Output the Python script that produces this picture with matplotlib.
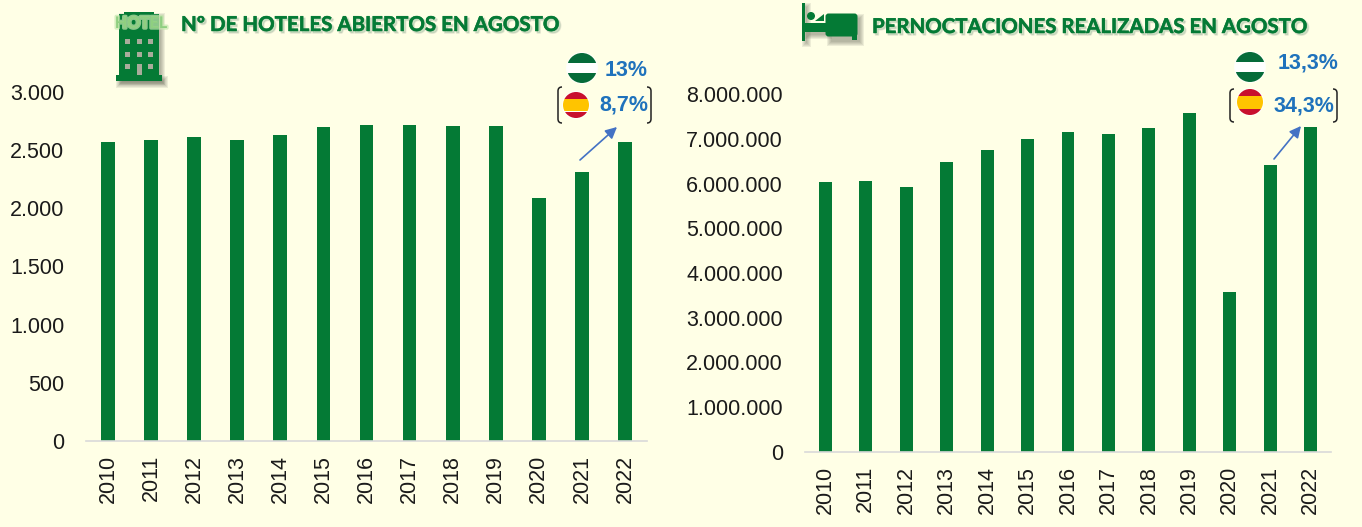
import matplotlib
matplotlib.use('Agg')
import matplotlib.pyplot as plt
import matplotlib.patheffects as pe
from matplotlib.patches import Rectangle, Circle, FancyArrowPatch, FancyBboxPatch, PathPatch, Polygon
from matplotlib.path import Path
from matplotlib.ticker import FuncFormatter

years = ['2010', '2011', '2012', '2013', '2014', '2015', '2016', '2017', '2018', '2019', '2020', '2021', '2022']
hoteles = [2570, 2587, 2613, 2587, 2630, 2700, 2716, 2716, 2708, 2708, 2089, 2312, 2570]
pernoctaciones = [6030000, 6060000, 5920000, 6480000, 6750000, 7000000, 7150000, 7100000,
                  7240000, 7580000, 3575000, 6410000, 7260000]

W, H = 1362, 527
BG = '#FFFFE6'
GREEN = '#047A35'
BLUE = '#1F72BC'
ARROW = '#4472C4'

plt.rcParams['font.family'] = ['Liberation Sans', 'DejaVu Sans']

fig = plt.figure(figsize=(W / 100, H / 100), dpi=100, facecolor=BG)


def make_axes(left, right, top, bottom):
    return fig.add_axes([left / W, 1 - bottom / H, (right - left) / W, (bottom - top) / H])


def draw_bars(ax, values, ymax, step, ypad):
    ax.set_facecolor('none')
    ax.bar(range(len(years)), values, width=0.32, color=GREEN)
    ax.set_xlim(-0.5, len(years) - 0.5)
    ax.set_ylim(0, ymax)
    ax.set_yticks(range(0, ymax + 1, step))
    ax.yaxis.set_major_formatter(FuncFormatter(lambda v, p: f'{int(v):,}'.replace(',', '.')))
    ax.set_xticks(range(len(years)))
    ax.set_xticklabels(years, rotation=90)
    ax.tick_params(axis='both', length=0, labelsize=15.5, colors='#1a1a1a')
    ax.tick_params(axis='x', pad=10)
    ax.tick_params(axis='y', pad=ypad)
    for s in ['top', 'right', 'left']:
        ax.spines[s].set_visible(False)
    ax.spines['bottom'].set_color('#D9D9D9')
    ax.spines['bottom'].set_linewidth(1.2)


ax1 = make_axes(86.5, 646.5, 92, 441)
draw_bars(ax1, hoteles, 3000, 500, 16)
ax2 = make_axes(805, 1331, 94, 452)
draw_bars(ax2, pernoctaciones, 8000000, 1000000, 16)

# overlay in pixel coordinates for titles, icons and callouts
ov = fig.add_axes([0, 0, 1, 1])
ov.set_xlim(0, W)
ov.set_ylim(H, 0)
ov.axis('off')
ov.patch.set_alpha(0)

title_fx = [pe.Stroke(linewidth=1.2, foreground='#777777', alpha=0.18, offset=(1.4, -1.4)),
            pe.withStroke(linewidth=0.35, foreground=GREEN)]
ov.text(181, 25, 'Nº DE HOTELES ABIERTOS EN AGOSTO', family='Lato', weight='bold', fontsize=14.75,
        color=GREEN, va='center', ha='left', path_effects=title_fx)
ov.text(872, 27, 'PERNOCTACIONES REALIZADAS EN AGOSTO', family='Lato', weight='bold', fontsize=14.7,
        color=GREEN, va='center', ha='left', path_effects=title_fx)


def soft_shadow(x, y, w, h, dx=3, dy=4):
    # blurred shadow faked with a few stacked translucent rectangles
    for grow in [3, 2, 1, 0, -1]:
        ov.add_patch(Rectangle((x + dx - grow, y + dy - grow), w + 2 * grow, h + 2 * grow,
                               color='#55574A', alpha=0.1, lw=0, zorder=1))


# hotel icon
soft_shadow(119, 12, 40, 66)
soft_shadow(116, 75, 46, 6)
ov.add_patch(Rectangle((119, 14), 40, 62, color=GREEN, lw=0, zorder=2))
ov.add_patch(Rectangle((116, 75), 46, 6, color=GREEN, lw=0, zorder=2))
ov.add_patch(Rectangle((124, 12), 30, 3, color=GREEN, lw=0, zorder=2))
for wx in [125, 137, 148]:
    for wy in [39, 52, 64]:
        ov.add_patch(Rectangle((wx, wy), 5, 5, color='#A9AC9B', lw=0, zorder=3))
ov.add_patch(Rectangle((137, 64), 5, 11, color='#A9AC9B', lw=0, zorder=3))
ov.text(141, 24, 'HOTEL', family='Lato', weight='bold', fontsize=11.5, color='#8FCF80', ha='center', va='center',
        zorder=4, path_effects=[pe.withStroke(linewidth=2.5, foreground='#C5E8AE', alpha=0.7)])

# bed icon
soft_shadow(802, 3, 3, 38, dx=3, dy=3)
soft_shadow(805, 23, 21, 9, dx=3, dy=4)
soft_shadow(826, 14, 31, 26, dx=4, dy=3)
ov.add_patch(Rectangle((802, 3), 3, 38, color=GREEN, lw=0, zorder=2))
ov.add_patch(Rectangle((804, 23), 23, 9, color=GREEN, lw=0, zorder=2))
ov.add_patch(Circle((811, 16), 4, color=GREEN, lw=0, zorder=2))
ov.add_patch(Polygon([(815, 21), (824, 14), (824, 21)], color=GREEN, lw=0, zorder=2))
ov.add_patch(FancyBboxPatch((827, 15), 29, 20, boxstyle='round,pad=1.5,rounding_size=3', color=GREEN, lw=0, zorder=2))
ov.add_patch(Rectangle((852, 30), 5, 10, color=GREEN, lw=0, zorder=2))


def round_flag(cx, cy, r, colors, edges):
    # horizontal stripes clipped to a circle
    ov.add_patch(Circle((cx, cy), r + 1, color='white', alpha=0.8, lw=0, zorder=2))
    clip = Circle((cx, cy), r, transform=ov.transData)
    tops = [cy - r] + [cy + e * r for e in edges]
    bottoms = [cy + e * r for e in edges] + [cy + r]
    for c, y0, y1 in zip(colors, tops, bottoms):
        rect = Rectangle((cx - r, y0), 2 * r, y1 - y0, color=c, lw=0, zorder=3)
        ov.add_patch(rect)
        rect.set_clip_path(clip)


def bracket(x, y0, y1, side):
    d = 4 * side
    verts = [(x + d, y0), (x, y0), (x, y0 + 4), (x, y1 - 4), (x, y1), (x + d, y1)]
    codes = [Path.MOVETO, Path.CURVE3, Path.CURVE3, Path.LINETO, Path.CURVE3, Path.CURVE3]
    ov.add_patch(PathPatch(Path(verts, codes), fill=False, ec='#222222', lw=1.1, zorder=3))


AND_COLORS = ['#056B39', '#FFFFFF', '#056B39']
ES_COLORS = ['#C8102E', '#FFC400', '#C8102E']

# left callout
round_flag(582, 68, 15, AND_COLORS, [-0.32, 0.36])
ov.text(626.5, 70, '13%', color=BLUE, weight='bold', fontsize=15.5, ha='center', va='center')
round_flag(576, 105, 13, ES_COLORS, [-0.48, 0.5])
ov.text(624, 105, '8,7%', color=BLUE, weight='bold', fontsize=15.5, ha='center', va='center')
bracket(558, 87, 123, 1)
bracket(651, 87, 123, -1)
ov.add_patch(FancyArrowPatch((580, 160), (617, 127), arrowstyle='-|>', mutation_scale=17, color=ARROW, lw=1.2, shrinkA=0, shrinkB=0, zorder=3))

# right callout
round_flag(1250, 67, 15, AND_COLORS, [-0.33, 0.33])
ov.text(1308, 63, '13,3%', color=BLUE, weight='bold', fontsize=15.5, ha='center', va='center')
round_flag(1250, 102, 13, ES_COLORS, [-0.45, 0.52])
ov.text(1304, 106, '34,3%', color=BLUE, weight='bold', fontsize=15.5, ha='center', va='center')
bracket(1230, 89, 122, 1)
bracket(1337, 89, 122, -1)
ov.add_patch(FancyArrowPatch((1274, 159), (1301, 126), arrowstyle='-|>', mutation_scale=17, color=ARROW, lw=1.2, shrinkA=0, shrinkB=0, zorder=3))

fig.savefig('out.png', dpi=100, facecolor=BG)
